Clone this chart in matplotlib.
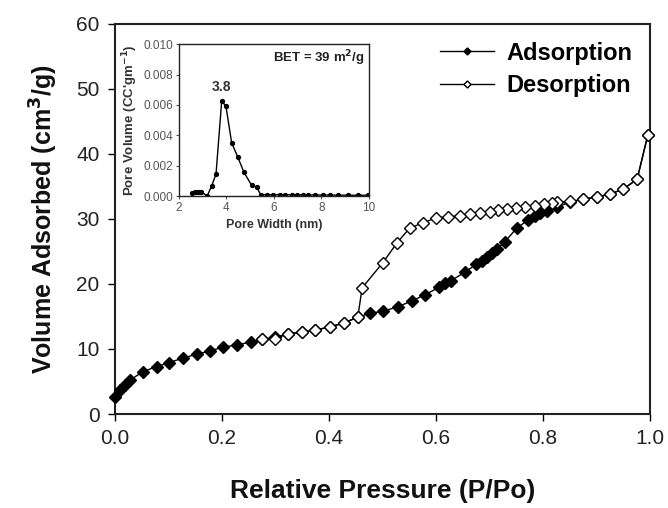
import matplotlib
matplotlib.use("Agg")
import matplotlib.pyplot as plt

plt.rcParams['font.family'] = ['Liberation Sans', 'DejaVu Sans']

# Nitrogen adsorption branch (relative pressure, volume adsorbed)
ads_p = [0.000, 0.009, 0.019, 0.028, 0.052, 0.078, 0.101, 0.127, 0.153, 0.178,
         0.202, 0.228, 0.254, 0.275, 0.299, 0.323, 0.350, 0.374, 0.402, 0.428,
         0.454, 0.477, 0.501, 0.529, 0.555, 0.579, 0.606, 0.617, 0.628, 0.654,
         0.675, 0.686, 0.695, 0.705, 0.714, 0.729, 0.751, 0.772, 0.785, 0.794,
         0.807, 0.826, 0.850, 0.875, 0.901, 0.925, 0.950, 0.976, 0.996]
ads_v = [2.6, 3.7, 4.5, 5.2, 6.5, 7.3, 7.9, 8.6, 9.2, 9.7,
         10.3, 10.6, 11.1, 11.5, 11.8, 12.3, 12.6, 12.9, 13.4, 14.0,
         14.9, 15.5, 15.8, 16.5, 17.4, 18.3, 19.5, 20.1, 20.5, 21.8,
         23.0, 23.6, 24.2, 24.7, 25.4, 26.5, 28.6, 29.8, 30.5, 30.9,
         31.2, 31.8, 32.6, 33.0, 33.4, 33.8, 34.6, 36.1, 42.9]

# Desorption branch
des_p = [0.996, 0.976, 0.950, 0.925, 0.901, 0.875, 0.850, 0.826, 0.817, 0.802,
         0.785, 0.766, 0.750, 0.732, 0.716, 0.701, 0.682, 0.664, 0.645, 0.622,
         0.601, 0.576, 0.551, 0.527, 0.501, 0.462, 0.454, 0.428, 0.402, 0.374,
         0.350, 0.323, 0.299, 0.275]
des_v = [42.9, 36.1, 34.6, 33.8, 33.4, 33.0, 32.7, 32.6, 32.5, 32.3,
         32.0, 31.9, 31.7, 31.5, 31.4, 31.1, 30.9, 30.8, 30.5, 30.3,
         30.2, 29.4, 28.6, 26.3, 23.3, 19.4, 14.9, 14.0, 13.4, 12.9,
         12.6, 12.3, 11.6, 11.5]

# BJH pore size distribution (inset)
pore_w = [2.53, 2.67, 2.80, 2.93, 3.19, 3.38, 3.56, 3.80, 3.98, 4.22,
          4.47, 4.74, 5.06, 5.27, 5.45, 5.70, 5.96, 6.25, 6.46, 6.76,
          6.97, 7.22, 7.43, 7.73, 8.06, 8.36, 8.69, 9.12, 9.54, 9.96]
pore_v = [0.00022, 0.00028, 0.00025, 0.00027, 0.00002, 0.00068, 0.00145, 0.00627, 0.00590, 0.00350,
          0.00260, 0.00156, 0.00072, 0.00060, 0.00007, 0.00010, 0.00009, 0.00010, 0.00009, 0.00008,
          0.00009, 0.00008, 0.00007, 0.00008, 0.00006, 0.00007, 0.00006, 0.00006, 0.00005, 0.00006]

x_ticks = [0.0, 0.2, 0.4, 0.6, 0.8, 1.0]
y_ticks = [0, 10, 20, 30, 40, 50, 60]
inset_x_ticks = [2, 4, 6, 8, 10]
inset_y_ticks = [0.000, 0.002, 0.004, 0.006, 0.008, 0.010]
peak_label = "3.8"
peak_w = 3.80
peak_v = 0.00627

fig = plt.figure(figsize=(6.68, 5.08), dpi=100)
ax = fig.add_axes([0.172, 0.185, 0.801, 0.768])

ax.plot(ads_p, ads_v, color='black', lw=1.0, marker='D', ms=6.5,
        mfc='black', mec='black', label='Adsorption', zorder=3, clip_on=False)
ax.plot(des_p, des_v, color='black', lw=1.0, marker='D', ms=6.5,
        mfc='white', mec='black', mew=1.0, label='Desorption', zorder=4,
        clip_on=False)

ax.set_xlim(0, 1.0)
ax.set_ylim(0, 60)
ax.set_xticks(x_ticks)
ax.set_xticklabels([f"{t:.1f}" for t in x_ticks])
ax.set_yticks(y_ticks)
ax.tick_params(direction='out', length=5, width=1.0, labelsize=15, pad=6,
               labelcolor='#222222')
for s in ax.spines.values():
    s.set_linewidth(1.5)
    s.set_color('#222222')

ax.set_xlabel("Relative Pressure (P/Po)", fontsize=19, fontweight='bold',
              labelpad=22, color='#111111')
ax.set_ylabel("Volume Adsorbed (cm$^{\\mathbf{3}}$/g)", fontsize=18,
              fontweight='bold', labelpad=12, color='#111111')

leg = ax.legend(loc='upper right', frameon=False,
                prop={'weight': 'bold', 'size': 17}, handlelength=2.3,
                handletextpad=0.5, labelspacing=0.4, borderaxespad=0.35,
                markerscale=0.55)

# Inset: pore size distribution
ins = fig.add_axes([0.268, 0.614, 0.284, 0.299])
ins.plot(pore_w, pore_v, color='black', lw=1.0, marker='o', ms=2.8,
         mfc='black', mec='black')
ins.set_xlim(2, 10)
ins.set_ylim(0, 0.010)
ins.set_xticks(inset_x_ticks)
ins.set_yticks(inset_y_ticks)
ins.set_yticklabels([f"{t:.3f}" for t in inset_y_ticks])
ins.tick_params(direction='out', length=2.5, width=0.8, labelsize=8.5, pad=2,
                colors='#555555')
for s in ins.spines.values():
    s.set_linewidth(1.0)
    s.set_color('#222222')
ins.set_xlabel("Pore Width (nm)", fontsize=9, fontweight='bold', labelpad=3,
               color='#333333')
ins.set_ylabel("Pore Volume (CC'gm$^{\\mathbf{-1}}$)", fontsize=9.5,
               fontweight='bold', labelpad=2, color='#333333')
ins.annotate(peak_label, xy=(peak_w, peak_v), xytext=(0, 5),
             textcoords='offset points', ha='center', va='bottom',
             fontsize=10, fontweight='bold', color='#333333')
ins.text(0.98, 0.91, "BET = 39 m$^{\\mathbf{2}}$/g", transform=ins.transAxes,
         ha='right', va='center', fontsize=9.5, fontweight='bold',
         color='#222222')

fig.savefig("out.png", dpi=100)
